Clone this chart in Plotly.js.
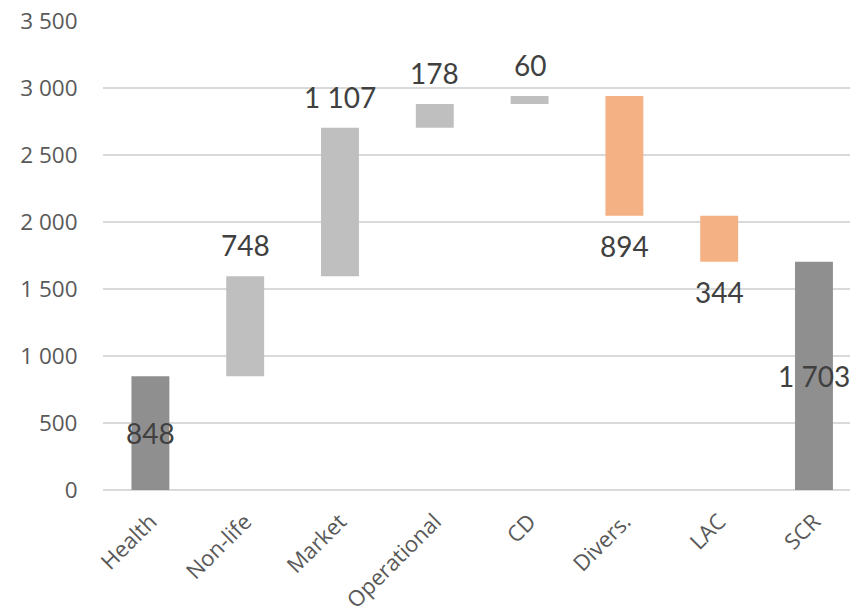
<!DOCTYPE html>
<html>
<head>
<meta charset="utf-8">
<script src="https://cdn.plot.ly/plotly-3.0.1.min.js"></script>
<style>html,body{margin:0;padding:0;background:#fff;}#chart{width:850px;height:614px;}</style>
</head>
<body>
<div id="chart"></div>
<script>
const categories = ["Health", "Non-life", "Market", "Operational", "CD", "Divers.", "LAC", "SCR"];
const measures = ["absolute", "relative", "relative", "relative", "relative", "relative", "relative", "total"];
const values = [848, 748, 1107, 178, 60, -894, -344, 0];

function fmt(v) {
  return String(Math.abs(v)).replace(/\B(?=(\d{3})+(?!\d))/g, " ");
}

// Build value labels from the data (positions derived from running totals)
const labelFont = {family: "Lato, Carlito, sans-serif", size: 28, color: "#404040"};
let running = 0;
const annotations = [];
values.forEach((v, i) => {
  if (measures[i] === "absolute" || measures[i] === "total") {
    const total = measures[i] === "absolute" ? v : running;
    running = total;
    annotations.push({x: categories[i], y: total / 2, text: fmt(total), showarrow: false,
      yanchor: "middle", xanchor: "center", font: labelFont});
  } else {
    running += v;
    if (v >= 0) {
      annotations.push({x: categories[i], y: running, text: fmt(v), showarrow: false,
        yanchor: "bottom", xanchor: "center", yshift: 12, font: labelFont});
    } else {
      annotations.push({x: categories[i], y: running, text: fmt(v), showarrow: false,
        yanchor: "top", xanchor: "center", yshift: -11, font: labelFont});
    }
  }
});

const trace = {
  type: "waterfall",
  x: categories,
  y: values,
  measure: measures,
  textinfo: "none",
  increasing: {marker: {color: "#bfbfbf"}},
  decreasing: {marker: {color: "#f4b183"}},
  totals: {marker: {color: "#8f8f8f"}},
  connector: {visible: false},
  width: 0.4,
  hoverinfo: "none"
};

const layout = {
  width: 850,
  height: 614,
  margin: {l: 103, r: 0, t: 21, b: 124},
  paper_bgcolor: "#ffffff",
  plot_bgcolor: "#ffffff",
  showlegend: false,
  separators: ". ",
  font: {family: "Open Sans, sans-serif", color: "#595959"},
  annotations: annotations,
  xaxis: {
    type: "category",
    range: [-0.5, 7.38],
    showgrid: false,
    showline: false,
    zeroline: false,
    tickangle: -45,
    ticks: "outside",
    ticklen: 9,
    tickcolor: "rgba(0,0,0,0)",
    tickfont: {family: "Open Sans, sans-serif", size: 22, color: "#595959"}
  },
  yaxis: {
    range: [0, 3500],
    dtick: 500,
    tickformat: ",d",
    showgrid: true,
    gridcolor: "#d9d9d9",
    gridwidth: 1.5,
    zeroline: true,
    zerolinecolor: "#d9d9d9",
    zerolinewidth: 1.5,
    showline: false,
    ticks: "outside",
    ticklen: 20,
    tickcolor: "rgba(0,0,0,0)",
    tickfont: {family: "Open Sans, sans-serif", size: 22.5, color: "#595959"}
  }
};

Plotly.newPlot("chart", [trace], layout, {displayModeBar: false, staticPlot: true});
</script>
</body>
</html>
